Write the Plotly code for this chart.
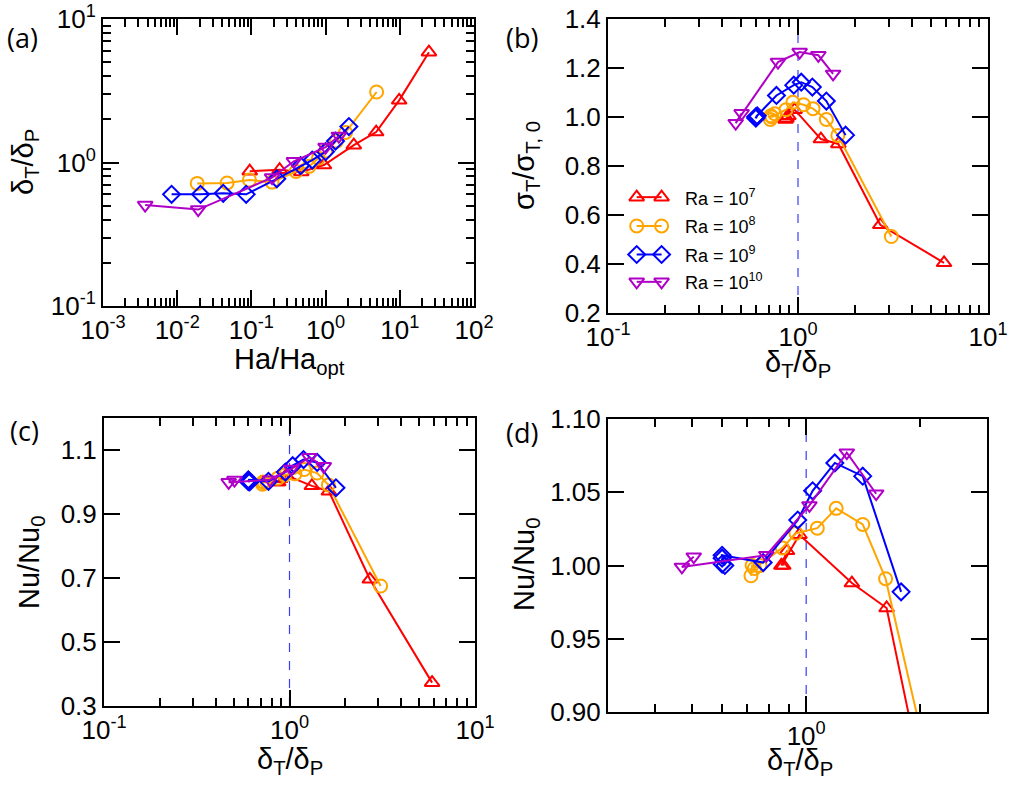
import plotly.graph_objects as go

# ---------------- data ----------------
ra_labels = ["Ra = 10<sup>7</sup>", "Ra = 10<sup>8</sup>", "Ra = 10<sup>9</sup>", "Ra = 10<sup>10</sup>"]

# Ra = 1e7
ha7 = [0.095, 0.24, 0.47, 0.95, 2.4, 4.8, 9.8, 24.7]
d7 = [0.87, 0.89, 0.86, 0.96, 1.32, 1.63, 2.71, 5.87]
sig7 = [0.995, 1.005, 0.99, 1.03, 0.91, 0.89, 0.56, 0.405]
nu7 = [1.0, 1.010, 1.0, 1.021, 0.988, 0.971, 0.696, 0.373]

# Ra = 1e8
ha8 = [0.0186, 0.047, 0.094, 0.19, 0.4, 0.6, 0.8, 1.0, 1.4, 1.86, 4.87]
d8 = [0.715, 0.72, 0.755, 0.73, 0.865, 0.94, 1.07, 1.2, 1.41, 1.62, 3.1]
sig8 = [0.99, 1.005, 1.013, 1.0, 1.03, 1.06, 1.05, 1.034, 0.99, 0.925, 0.512]
nu8 = [0.993, 1.0, 1.0, 0.998, 1.012, 1.022, 1.0255, 1.039, 1.028, 0.991, 0.675]

# Ra = 1e9
ha9 = [0.0084, 0.0206, 0.0417, 0.085, 0.22, 0.46, 0.66, 1.0, 1.36, 2.06]
d9 = [0.60, 0.60, 0.61, 0.60, 0.77, 0.95, 1.04, 1.19, 1.41, 1.78]
sig9 = [1.0, 0.995, 1.005, 1.0, 1.088, 1.13, 1.142, 1.122, 1.065, 0.926]
nu9 = [1.001, 1.005, 1.0, 1.007, 1.002, 1.031, 1.051, 1.07, 1.061, 0.982]

# Ra = 1e10
ha10 = [0.0037, 0.0192, 0.19, 0.374, 1.0, 1.51]
d10 = [0.505, 0.47, 0.785, 1.02, 1.28, 1.53]
sig10 = [1.015, 0.975, 1.224, 1.265, 1.252, 1.176]
nu10 = [1.006, 0.999, 1.007, 1.041, 1.077, 1.049]

series = [(ha7, d7, sig7, nu7), (ha8, d8, sig8, nu8), (ha9, d9, sig9, nu9), (ha10, d10, sig10, nu10)]
colors = ["#ff0000", "#ffa500", "#0000ff", "#b000c8"]
symbols = ["triangle-up-open", "circle-open", "diamond-open", "triangle-down-open"]

W, H = 1027, 790
def px(x):
    return x / W
def py(y):
    return 1 - y / H

fig = go.Figure()

# reference dashed lines at delta_T/delta_P = 1
for xa, ya, yr in [("x2", "y2", (0.2, 1.4)), ("x3", "y3", (0.3, 1.2)), ("x4", "y4", (0.9, 1.1))]:
    fig.add_trace(go.Scatter(x=[1, 1], y=list(yr), mode="lines", xaxis=xa, yaxis=ya,
                             line=dict(color="#3c3cff", width=1.2, dash="dash"),
                             showlegend=False, hoverinfo="skip"))

for (ha, d, sig, nu), c, s in zip(series, colors, symbols):
    st = dict(mode="lines+markers", line=dict(color=c, width=2),
              marker=dict(symbol=s, size=13, color=c, line=dict(width=2, color=c)),
              showlegend=False)
    fig.add_trace(go.Scatter(x=ha, y=d, xaxis="x", yaxis="y", **st))
    fig.add_trace(go.Scatter(x=d, y=sig, xaxis="x2", yaxis="y2", **st))
    fig.add_trace(go.Scatter(x=d, y=nu, xaxis="x3", yaxis="y3", **st))
    fig.add_trace(go.Scatter(x=d, y=nu, xaxis="x4", yaxis="y4", **st))

# custom legend samples inside panel (b)
leg_rows = [0.394, 0.296, 0.199, 0.106]
for lab, c, s, r in zip(ra_labels, colors, symbols, leg_rows):
    fig.add_trace(go.Scatter(x=[0.0755, 0.141], y=[r, r], mode="lines+markers", xaxis="x5", yaxis="y5",
                             line=dict(color=c, width=2),
                             marker=dict(symbol=s, size=13, color=c, line=dict(width=2, color=c)),
                             showlegend=False, hoverinfo="skip"))

TICKFONT = dict(family="Liberation Sans, Arial", size=26, color="black")
MINOR = dict(ticks="inside", ticklen=8, tickwidth=1.5, tickcolor="black", showgrid=False)

def base(**kw):
    d = dict(showline=True, linecolor="black", linewidth=2, mirror="allticks", ticks="inside",
             ticklen=16, tickwidth=2, tickcolor="black", showgrid=False, zeroline=False,
             tickfont=TICKFONT, automargin=False, ticklabeloverflow="allow")
    d.update(kw)
    return d

def pw(e):
    return "10<sup>%d</sup>" % e

dom_a = dict(x=[px(103), px(474)], y=[py(306), py(19)])
dom_b = dict(x=[px(608), px(988)], y=[py(313), py(19)])
dom_c = dict(x=[px(104), px(475)], y=[py(706), py(418)])
dom_d = dict(x=[px(608), px(987)], y=[py(712), py(419)])

fig.update_layout(
    width=W, height=H, margin=dict(l=0, r=0, t=0, b=0, pad=0, autoexpand=False),
    paper_bgcolor="white", plot_bgcolor="rgba(0,0,0,0)", showlegend=False,
    xaxis=base(type="log", domain=dom_a["x"], anchor="y", range=[-3, 2],
               tickmode="array", tickvals=[10.0 ** e for e in range(-3, 3)],
               ticktext=[pw(e) for e in range(-3, 3)], minor=dict(MINOR, dtick="D1")),
    yaxis=base(type="log", domain=dom_a["y"], anchor="x", range=[-1, 1],
               tickmode="array", tickvals=[0.1, 1, 10], ticktext=[pw(-1), pw(0), pw(1)],
               minor=dict(MINOR, dtick="D1")),
    xaxis2=base(type="log", domain=dom_b["x"], anchor="y2", range=[-1, 1],
                tickmode="array", tickvals=[0.1, 1, 10], ticktext=[pw(-1), pw(0), pw(1)],
                minor=dict(MINOR, dtick="D1")),
    yaxis2=base(domain=dom_b["y"], anchor="x2", range=[0.2, 1.4], tick0=0.2, dtick=0.2,
                tickformat=".1f"),
    xaxis3=base(type="log", domain=dom_c["x"], anchor="y3", range=[-1, 1],
                tickmode="array", tickvals=[0.1, 1, 10], ticktext=[pw(-1), pw(0), pw(1)],
                minor=dict(MINOR, dtick="D1")),
    yaxis3=base(domain=dom_c["y"], anchor="x3", range=[0.3, 1.2], tick0=0.3, dtick=0.2,
                tickformat=".1f"),
    xaxis4=base(type="log", domain=dom_d["x"], anchor="y4", range=[-0.5229, 0.4771],
                tickmode="array", tickvals=[1], ticktext=[pw(0)],
                minor=dict(MINOR, tickmode="array", tickvals=[0.4, 0.5, 0.6, 0.7, 0.8, 0.9, 2, 3])),
    yaxis4=base(domain=dom_d["y"], anchor="x4", range=[0.9, 1.1], tick0=0.9, dtick=0.05,
                tickformat=".2f"),
    xaxis5=dict(domain=dom_b["x"], anchor="y5", range=[0, 1], visible=False, fixedrange=True),
    yaxis5=dict(domain=dom_b["y"], anchor="x5", range=[0, 1], visible=False, fixedrange=True),
)

TITLEFONT = dict(family="Liberation Sans, Arial", size=29, color="black")
LABFONT = dict(family="Open Sans, Liberation Sans", size=27, color="black")
ann = []
def add(text, x, y, font, angle=0, xanchor="center", xref="paper", yref="paper"):
    ann.append(dict(text=text, x=x, y=y, xref=xref, yref=yref, xanchor=xanchor, yanchor="middle",
                    showarrow=False, font=font, textangle=angle))

# axis titles
add("Ha/Ha<sub>opt</sub>", px(289), py(361), TITLEFONT)
add("δ<sub>T</sub>/δ<sub>P</sub>", px(798), py(364), TITLEFONT)
add("δ<sub>T</sub>/δ<sub>P</sub>", px(290), py(761), TITLEFONT)
add("δ<sub>T</sub>/δ<sub>P</sub>", px(800), py(762), TITLEFONT)
add("δ<sub>T</sub>/δ<sub>P</sub>", px(25), py(162), TITLEFONT, angle=-90)
add("σ<sub>T</sub>/σ<sub>T, 0</sub>", px(526), py(166), TITLEFONT, angle=-90)
add("Nu/Nu<sub>0</sub>", px(31), py(563), TITLEFONT, angle=-90)
add("Nu/Nu<sub>0</sub>", px(526), py(565), TITLEFONT, angle=-90)

# panel labels
add("(a)", px(22), py(37), LABFONT)
add("(b)", px(522), py(37), LABFONT)
add("(c)", px(24), py(430), LABFONT)
add("(d)", px(522), py(432), LABFONT)

# legend text
LEGFONT = dict(family="Liberation Sans, Arial", size=18, color="black")
for lab, r in zip(ra_labels, leg_rows):
    add(lab, 0.197, r, LEGFONT, xanchor="left", xref="x5", yref="y5")

fig.update_layout(annotations=ann)
fig.write_html("out.html", config={"displayModeBar": False},
               post_script="document.body.style.margin='0px';")
